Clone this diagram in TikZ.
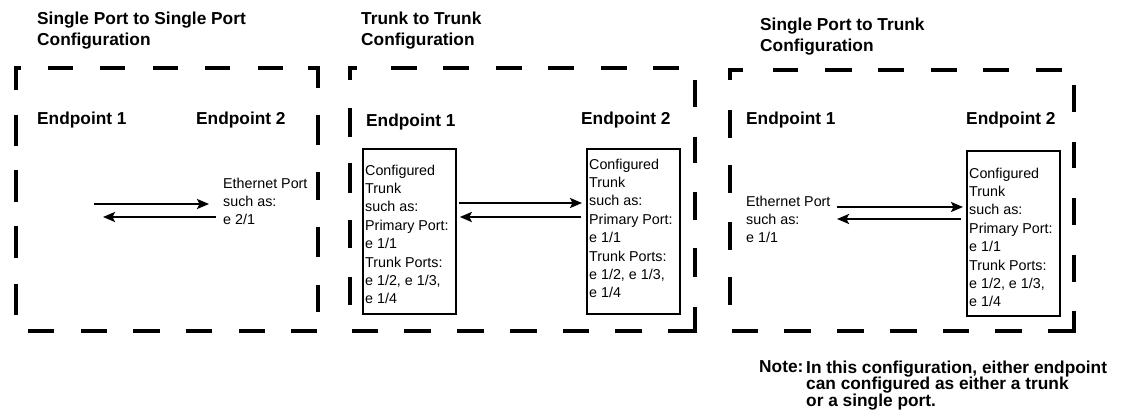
\documentclass[tikz,border=0pt]{standalone}
\usepackage{fontspec}
\setmainfont{Liberation Sans}
\usetikzlibrary{arrows.meta}
\begin{document}
\begin{tikzpicture}[x=1pt,y=-1pt,
  frame/.style={line width=4pt,line join=miter},
  title/.style={anchor=north west,inner sep=0pt,align=left,font=\fontsize{17.3}{21.5}\selectfont\bfseries},
  eplabel/.style={anchor=base west,inner sep=0pt,font=\fontsize{17.3}{20}\selectfont\bfseries},
  small/.style={anchor=north west,inner sep=0pt,align=left,font=\fontsize{14.3}{18.4}\selectfont},
  tbox/.style={draw,line width=1.8pt,anchor=north west,inner sep=0pt,minimum width=93pt,minimum height=165pt},
  arr/.style={line width=2.2pt,-{Stealth[length=12pt,width=10pt,inset=2.5pt]}}]
\useasboundingbox (0,0) rectangle (1124,419);

% ---------- titles ----------
\node[title] (t1) at (37,10) {\rule{0pt}{14pt}Single Port to Single Port\\Configuration};
\node[title] (t2) at (361,10) {\rule{0pt}{14pt}Trunk to Trunk\\Configuration};
\node[title] (t3) at (760,16) {\rule{0pt}{14pt}Single Port to Trunk\\Configuration};

% ---------- dashed frame 1 ----------
\draw[frame] (21,68) -- (16,68) -- (16,90);
\draw[frame] (308,68) -- (318,68) -- (318,88);
\foreach \a/\b in {48/73,100/125,153/178,205/230,258/283} \draw[frame] (\a,68) -- (\b,68);
\foreach \a/\b in {115/146,170/202,226/258,284/315} \draw[frame] (16,\a) -- (16,\b);
\foreach \a/\b in {115/145,172/200,227/257,285/312} \draw[frame] (318,\a) -- (318,\b);
\foreach \a/\b in {28/54,81/107,133/160,186/212,239/265,291/317} \draw[frame] (\a,331) -- (\b,331);

% ---------- dashed frame 2 ----------
\draw[frame] (357,68) -- (350,68) -- (350,80);
\draw[frame] (695,307) -- (695,331) -- (668,331);
\foreach \a/\b in {391/417,443/469,496/522,548/574,601/627,653/679} \draw[frame] (\a,68) -- (\b,68);
\foreach \a/\b in {80/107,137/163,192/220,248/277} \draw[frame] (695,\a) -- (695,\b);
\foreach \a/\b in {108/137,163/193,220/248,277/305} \draw[frame] (350,\a) -- (350,\b);
\foreach \a/\b in {352/378,404/431,457/484,510/537,563/589,615/642} \draw[frame] (\a,331) -- (\b,331);

% ---------- dashed frame 3 ----------
\draw[frame] (743,70) -- (730,70) -- (730,80);
\draw[frame] (1074,311) -- (1074,331) -- (1048,331);
\foreach \a/\b in {773/798,825/852,878/904,931/957,983/1009,1036/1062} \draw[frame] (\a,70) -- (\b,70);
\foreach \a/\b in {85/112,142/168,198/225,255/282} \draw[frame] (1074,\a) -- (1074,\b);
\foreach \a/\b in {110/138,165/193,222/250,277/305} \draw[frame] (730,\a) -- (730,\b);
\foreach \a/\b in {732/758,784/811,837/864,890/917,943/969,995/1022} \draw[frame] (\a,331) -- (\b,331);

% ---------- endpoint labels ----------
\node[eplabel] (e11) at (37,124.5) {Endpoint 1};
\node[eplabel] (e12) at (196,124.5) {Endpoint 2};
\node[eplabel] (e21) at (366,127) {Endpoint 1};
\node[eplabel] (e22) at (581,125) {Endpoint 2};
\node[eplabel] (e31) at (746,125) {Endpoint 1};
\node[eplabel] (e32) at (966,125) {Endpoint 2};

% ---------- panel 1 ----------
\node[small] (eth1) at (223,177) {\rule{0pt}{11pt}Ethernet Port\\such as:\\e 2/1};
\coordinate (p1) at (94,204);
\coordinate (p2) at (103,217);
\draw[arr,shorten >=14pt] (p1) -- (eth1.west |- p1);
\draw[arr,shorten <=7pt] (eth1.west |- p2) -- (p2);

% ---------- panel 2 ----------
\node[tbox] (b2l) at (362,148) {};
\node[tbox] (b2r) at (586,148) {};
\node[small] (b2lt) at (365,164) {\rule{0pt}{11pt}Configured\\Trunk\\such as:\\Primary Port:\\e 1/1\\Trunk Ports:\\e 1/2, e 1/3,\\e 1/4};
\node[small] (b2rt) at (589,158) {\rule{0pt}{11pt}Configured\\Trunk\\such as:\\Primary Port:\\e 1/1\\Trunk Ports:\\e 1/2, e 1/3,\\e 1/4};
\coordinate (y2a) at (0,203);
\coordinate (y2b) at (0,217);
\draw[arr,shorten <=2pt,shorten >=4pt] (b2l.east |- y2a) -- (b2r.west |- y2a);
\draw[arr,shorten <=5pt,shorten >=3pt] (b2r.west |- y2b) -- (b2l.east |- y2b);

% ---------- panel 3 ----------
\node[small] (eth3) at (746,195) {\rule{0pt}{11pt}Ethernet Port\\such as:\\e 1/1};
\node[tbox] (b3) at (966,150) {};
\node[small] (b3t) at (969,167) {\rule{0pt}{11pt}Configured\\Trunk\\such as:\\Primary Port:\\e 1/1\\Trunk Ports:\\e 1/2, e 1/3,\\e 1/4};
\coordinate (q1) at (837,207);
\coordinate (q2) at (837,219);
\draw[arr,shorten >=3pt] (q1) -- (b3.west |- q1);
\draw[arr,shorten <=5pt] (b3.west |- q2) -- (q2);

% ---------- note ----------
\node[eplabel] (nl) at (759,373) {Note:};
\node[anchor=north west,inner sep=0pt,align=left,font=\fontsize{17.3}{16.5}\selectfont\bfseries] (nt) at (806,359) {\rule{0pt}{14pt}In this configuration, either endpoint\\can configured as either a trunk\\or a single port.};
\end{tikzpicture}
\end{document}
